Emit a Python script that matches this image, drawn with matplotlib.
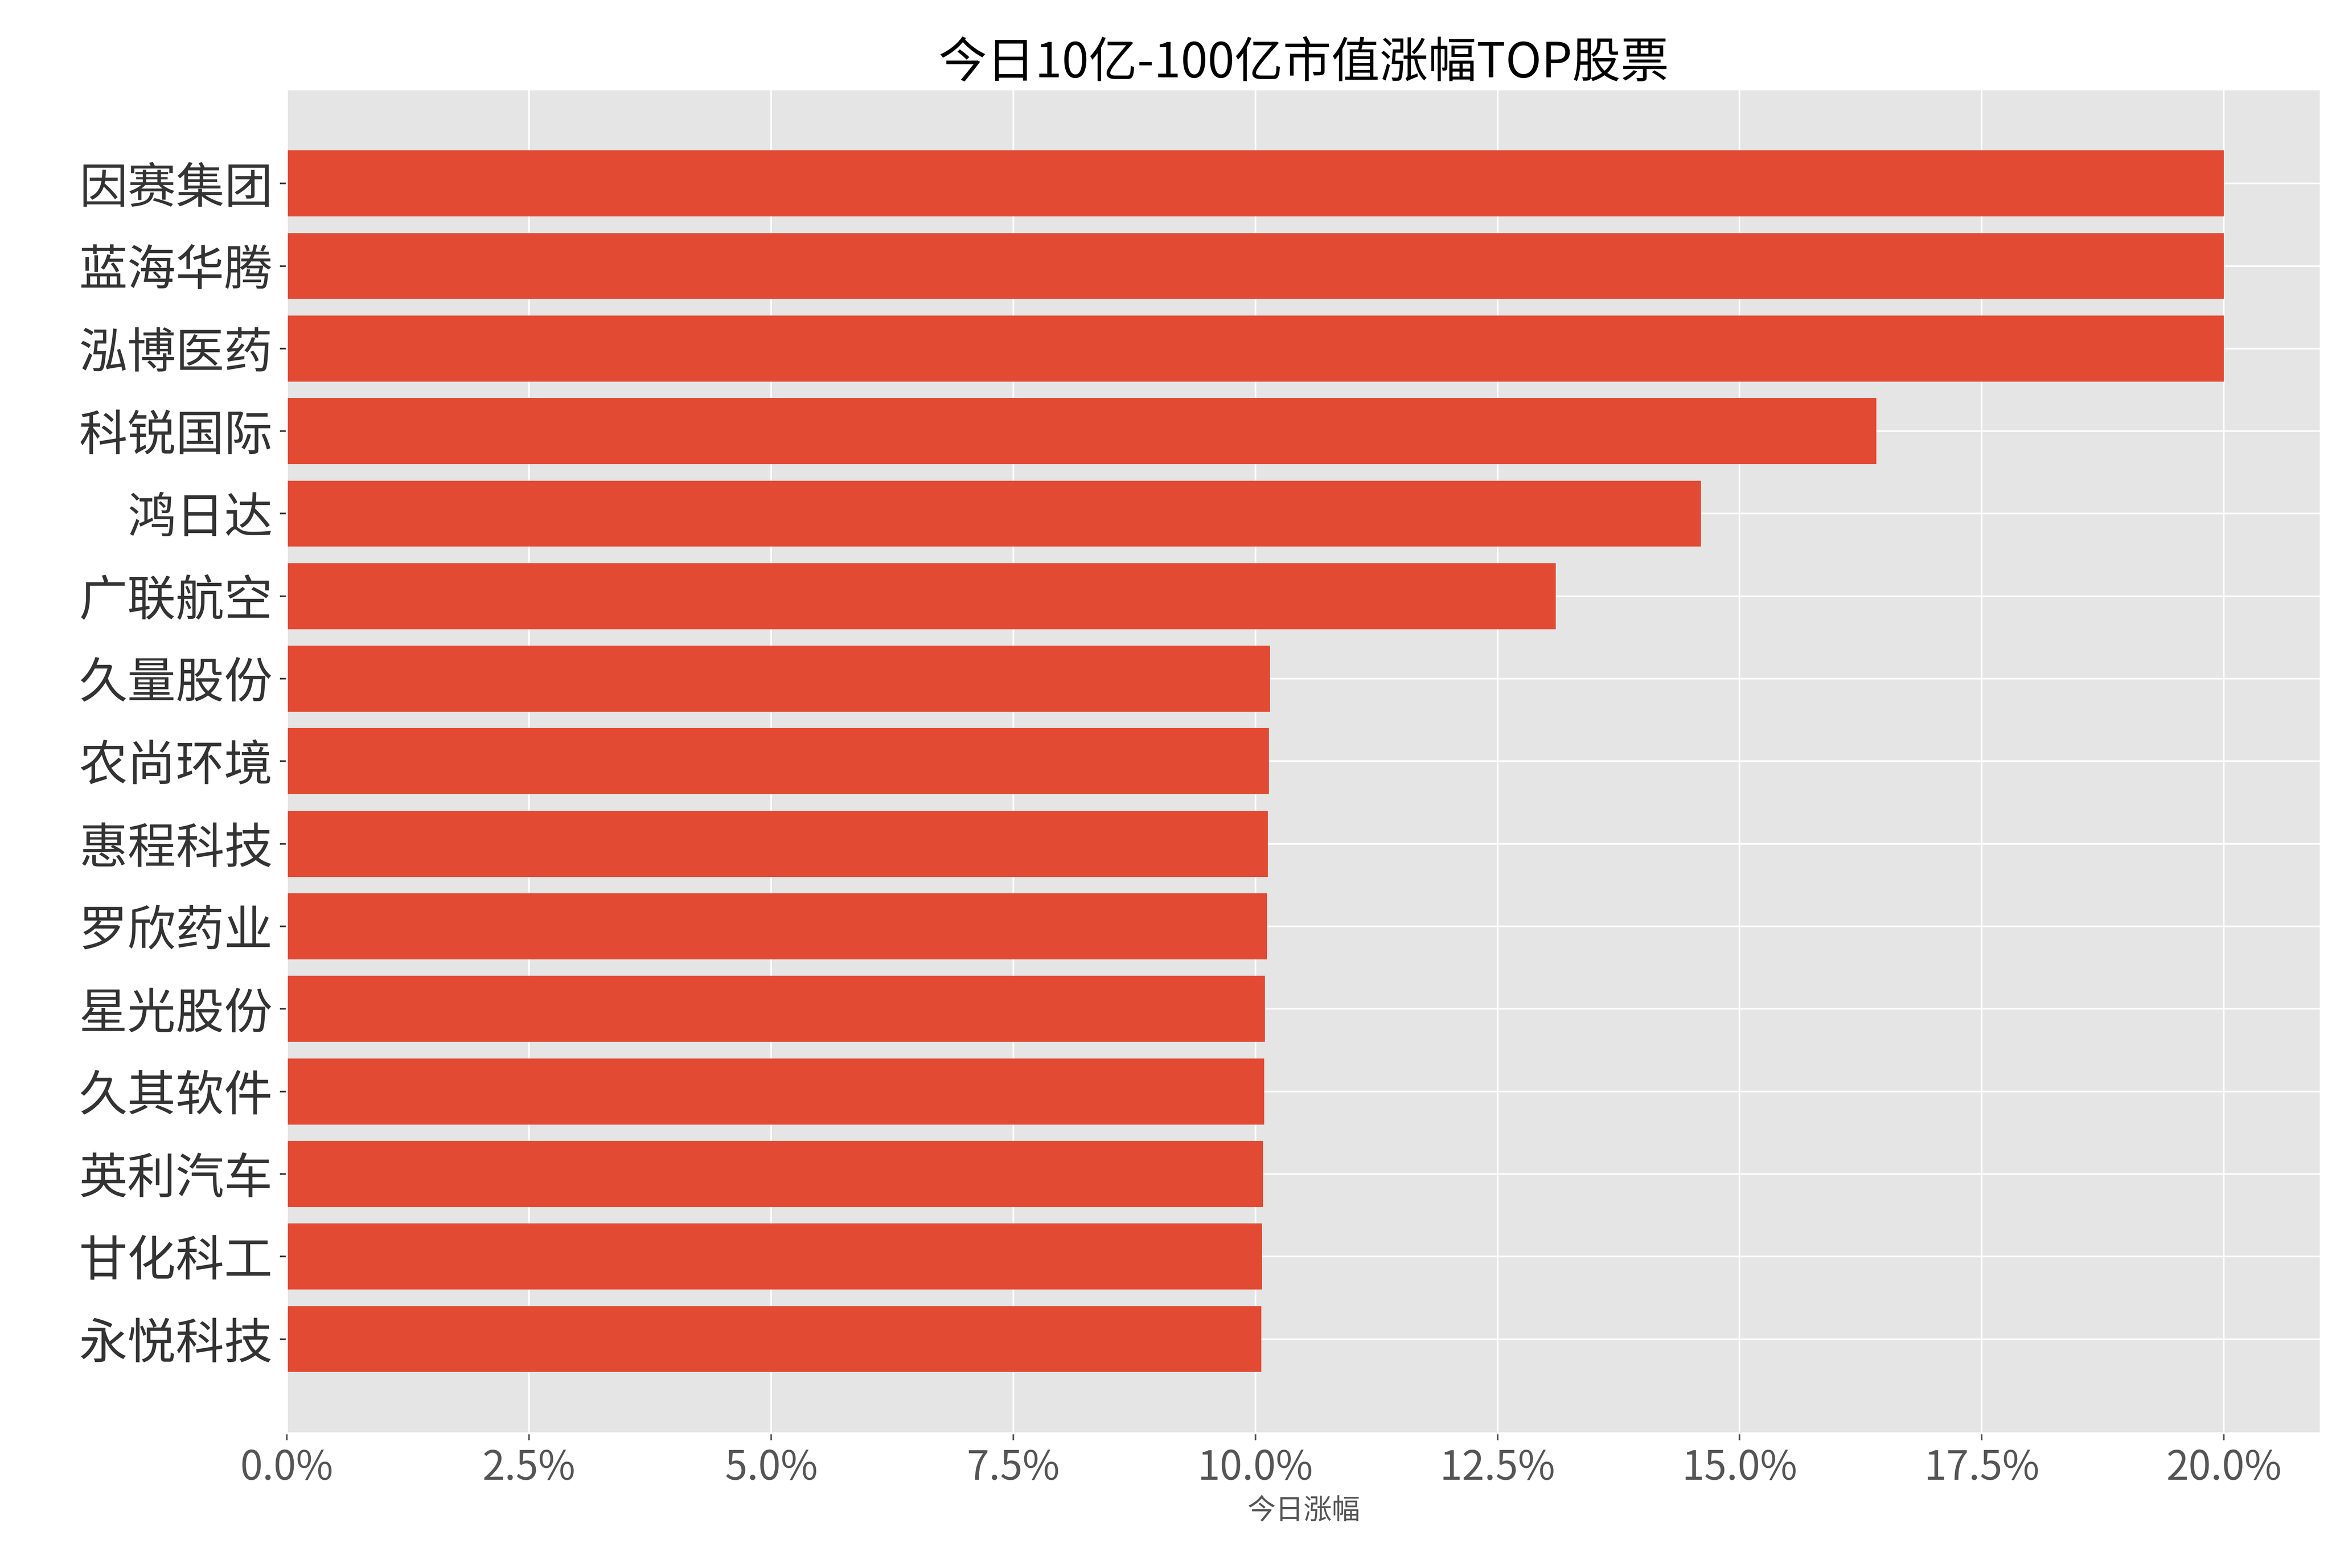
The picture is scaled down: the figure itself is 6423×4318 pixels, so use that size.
import matplotlib
matplotlib.use("Agg")
import matplotlib.pyplot as plt
from matplotlib.ticker import FuncFormatter

plt.style.use('ggplot')
plt.rcParams['font.family'] = ['Noto Sans CJK SC', 'DejaVu Sans']
plt.rcParams['axes.unicode_minus'] = False

names = ["因赛集团","蓝海华腾","泓博医药","科锐国际","鸿日达","广联航空","久量股份","农尚环境",
         "惠程科技","罗欣药业","星光股份","久其软件","英利汽车","甘化科工","永悦科技"]
values = [20.0,20.0,20.0,16.41,14.6,13.1,10.15,10.14,10.13,10.12,10.1,10.09,10.08,10.07,10.06]

fig = plt.figure(figsize=(16.06,10.795), dpi=400)
ax = fig.add_axes([0.123,0.086,0.872,0.857])
ax.barh(names[::-1], values[::-1], color='#E24A33')
ax.set_xlim(0,21)
ax.set_xticks([0,2.5,5,7.5,10,12.5,15,17.5,20])
ax.xaxis.set_major_formatter(FuncFormatter(lambda v,p: f"{v:.1f}%"))
ax.tick_params(axis='y', labelsize=24, colors='#333333')
ax.tick_params(axis='x', labelsize=20, colors='#555555')
ax.set_xlabel("今日涨幅", fontsize=14, color='#555555')
ax.set_title("今日10亿-100亿市值涨幅TOP股票", fontsize=24, color='black')
fig.savefig("out.png", dpi=400)
